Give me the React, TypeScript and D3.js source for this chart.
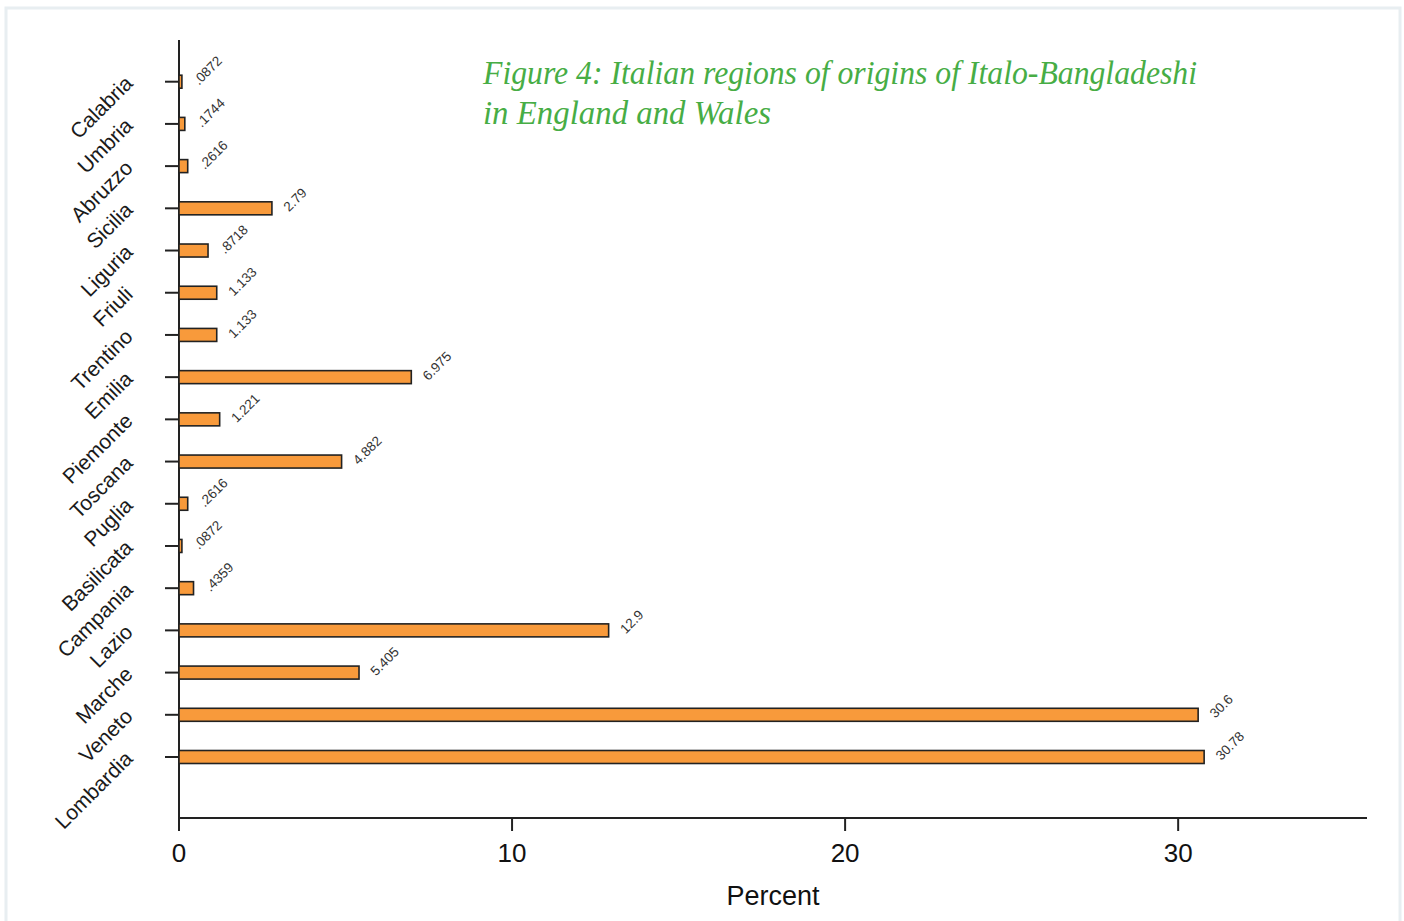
import React from "react";
import * as d3 from "d3";

// Regions, listed top to bottom
const regions = [
  "Calabria", "Umbria", "Abruzzo", "Sicilia", "Liguria", "Friuli", "Trentino",
  "Emilia", "Piemonte", "Toscana", "Puglia", "Basilicata", "Campania", "Lazio",
  "Marche", "Veneto", "Lombardia",
];
// Share of respondents (percent) by region
const percents = [
  0.0872, 0.1744, 0.2616, 2.79, 0.8718, 1.133, 1.133, 6.975, 1.221, 4.882,
  0.2616, 0.0872, 0.4359, 12.9, 5.405, 30.6, 30.78,
];
// Printed labels for each bar
const valueLabels = [
  ".0872", ".1744", ".2616", "2.79", ".8718", "1.133", "1.133", "6.975", "1.221",
  "4.882", ".2616", ".0872", ".4359", "12.9", "5.405", "30.6", "30.78",
];
const xTicks = [0, 10, 20, 30];
const titleLines = [
  "Figure 4: Italian regions of origins of Italo-Bangladeshi",
  "in England and Wales",
];
const titleWidths = [714, 288];

const W = 1404;
const H = 921;
const axisX = 179;
const axisY = 818;

export default function App() {
  const x = d3.scaleLinear().domain([0, 35.67]).range([axisX, 1367]);
  const y = d3.scalePoint<string>().domain(regions).range([81.7, 757]);
  const barH = 13;
  const sans = "'Liberation Sans', Arial, sans-serif";

  return (
    <svg
      width={W}
      height={H}
      style={{ position: "absolute", left: 0, top: 0, display: "block" }}
    >
      <rect x={0} y={0} width={W} height={H} fill="#ffffff" />
      <rect x={6} y={8} width={1394} height={H} fill="#ffffff" stroke="#e8eef1" strokeWidth={3} />

      {/* title */}
      <g fill="#47ad45" fontFamily="'Liberation Serif', 'Times New Roman', serif" fontStyle="italic" fontSize={33}>
        {titleLines.map((t, i) => (
          <text key={i} x={483} y={84 + i * 40} textLength={titleWidths[i]} lengthAdjust="spacingAndGlyphs">
            {t}
          </text>
        ))}
      </g>

      {/* axes */}
      <line x1={axisX} x2={axisX} y1={40} y2={axisY + 1} stroke="#222" strokeWidth={2} />
      <line x1={axisX - 1} x2={1367} y1={axisY} y2={axisY} stroke="#222" strokeWidth={2} />

      {xTicks.map((t) => (
        <g key={t}>
          <line x1={x(t)} x2={x(t)} y1={axisY} y2={axisY + 13} stroke="#222" strokeWidth={2} />
          <text x={x(t)} y={862} textAnchor="middle" fontFamily={sans} fontSize={26} fill="#111">
            {t}
          </text>
        </g>
      ))}
      <text x={773} y={905} textAnchor="middle" fontFamily={sans} fontSize={27} fill="#111">
        Percent
      </text>

      {/* bars, ticks and labels */}
      {regions.map((r, i) => {
        const yc = y(r)!;
        const v = percents[i];
        const xe = x(v);
        return (
          <g key={r}>
            <line x1={axisX - 14} x2={axisX} y1={yc} y2={yc} stroke="#222" strokeWidth={2} />
            <rect
              x={x(0)}
              y={yc - barH / 2}
              width={xe - x(0)}
              height={barH}
              fill="#f89a3b"
              stroke="#222"
              strokeWidth={1.6}
            />
            <text
              transform={`translate(${xe + 17},${yc + 4}) rotate(-45)`}
              fontFamily={sans}
              fontSize={13.5}
              fill="#333"
            >
              {valueLabels[i]}
            </text>
            <text
              transform={`translate(${axisX - 45},${yc + 3}) rotate(-45)`}
              textAnchor="end"
              fontFamily={sans}
              fontSize={21}
              fill="#1a1a1a"
            >
              {r}
            </text>
          </g>
        );
      })}
    </svg>
  );
}
